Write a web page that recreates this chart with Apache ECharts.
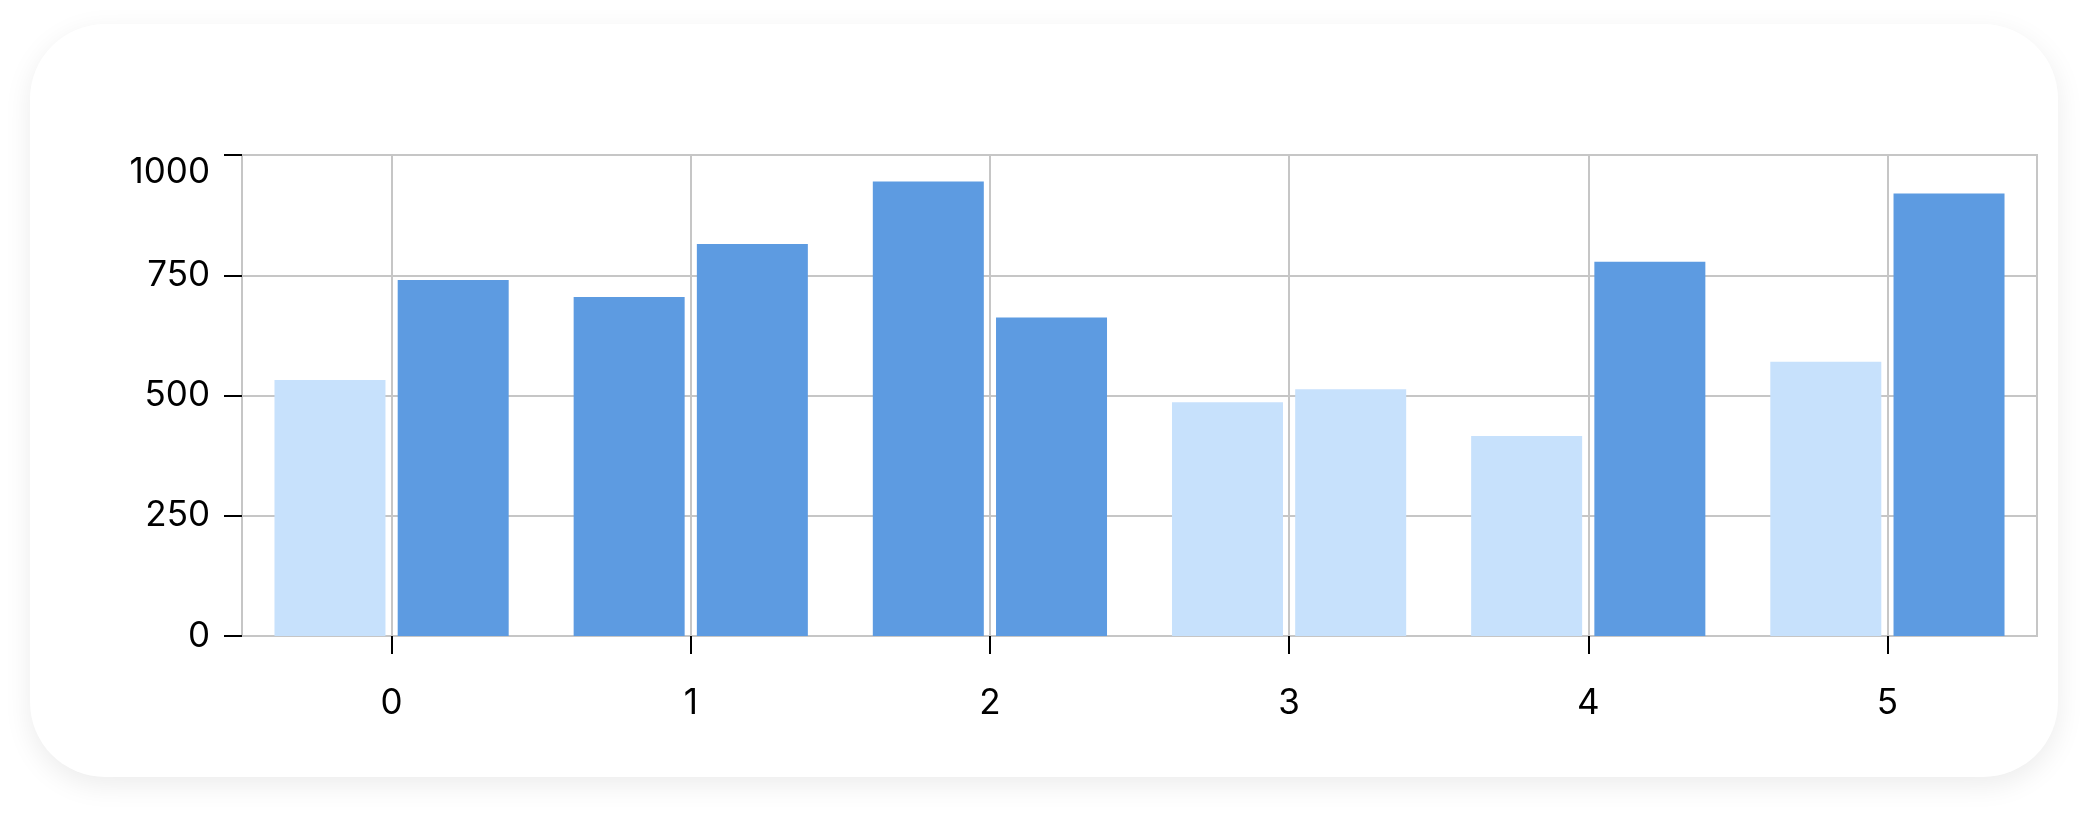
<!DOCTYPE html>
<html>
<head>
<meta charset="utf-8">
<script src="https://cdn.jsdelivr.net/npm/echarts@6/dist/echarts.min.js"></script>
<style>
  html, body { margin: 0; padding: 0; background: #ffffff; }
  #card {
    position: absolute; left: 30px; top: 24px; width: 2028px; height: 753px;
    background: #ffffff; border-radius: 75px;
    box-shadow: 0 8px 28px rgba(0,0,0,0.08);
  }
  #chart { position: absolute; left: 0; top: 0; width: 2100px; height: 825px; }
</style>
</head>
<body>
<div id="card"></div>
<div id="chart"></div>
<script>
const categories = ['0', '1', '2', '3', '4', '5'];
const seriesA = [532, 705, 945, 486, 416, 570];
const seriesB = [740, 815, 662, 513, 778, 920];
const yTicks = { min: 0, max: 1000, interval: 250 };
const threshold = 600;

const LIGHT = '#c7e1fc';
const DARK = '#5d9be1';
const GRID = '#c6c6c6';
const colorize = arr => arr.map(v => ({ value: v, itemStyle: { color: v >= threshold ? DARK : LIGHT } }));

const chart = echarts.init(document.getElementById('chart'), null, { renderer: 'canvas' });
chart.setOption({
  animation: false,
  backgroundColor: 'transparent',
  textStyle: { fontFamily: 'Inter' },
  grid: {
    left: 242, right: 63, top: 155, bottom: 189,
    show: true, borderColor: GRID, borderWidth: 2, backgroundColor: 'transparent'
  },
  xAxis: {
    type: 'category',
    data: categories,
    boundaryGap: true,
    axisLine: { show: false },
    axisTick: { show: true, alignWithLabel: true, length: 18, lineStyle: { color: '#000', width: 2 } },
    axisLabel: { color: '#000', fontSize: 35, fontFamily: 'Inter', margin: 50 },
    splitLine: { show: false }
  },
  yAxis: {
    type: 'value',
    min: yTicks.min, max: yTicks.max, interval: yTicks.interval,
    axisLine: { show: false },
    axisTick: { show: true, length: 18, lineStyle: { color: '#000', width: 2 } },
    axisLabel: {
      color: '#000', fontSize: 35, fontFamily: 'Inter', margin: 32,
      verticalAlignMaxLabel: 'top',
      formatter: v => String(v)
    },
    splitLine: { show: true, lineStyle: { color: GRID, width: 2 } }
  },
  series: [
    {
      type: 'bar',
      data: colorize(seriesA),
      barWidth: 111,
      barGap: '11%'
    },
    {
      type: 'bar',
      data: colorize(seriesB),
      barWidth: 111,
      barGap: '11%'
    },
    {
      type: 'line',
      data: [],
      silent: true,
      markLine: {
        silent: true,
        symbol: 'none',
        label: { show: false },
        lineStyle: { color: GRID, width: 2, type: 'solid' },
        data: categories.map(c => ({ xAxis: c }))
      }
    }
  ]
});
</script>
</body>
</html>
